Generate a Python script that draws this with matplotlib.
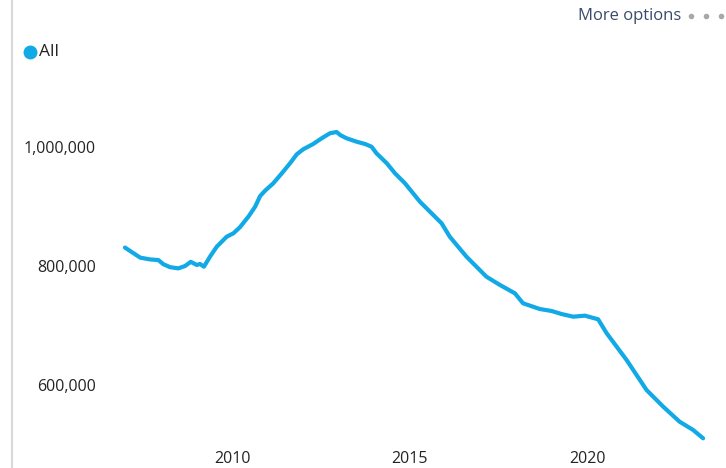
import matplotlib
matplotlib.use("Agg")
from matplotlib import pyplot as plt
from matplotlib.lines import Line2D
from matplotlib.ticker import FuncFormatter

# decimal year, value
years = [2006.99, 2007.42, 2007.70, 2007.93, 2008.07, 2008.26, 2008.49, 2008.68,
         2008.84, 2009.01, 2009.10, 2009.21, 2009.38, 2009.57, 2009.85, 2010.04,
         2010.22, 2010.46, 2010.65, 2010.79, 2010.93, 2011.16, 2011.40, 2011.63,
         2011.82, 2012.00, 2012.28, 2012.52, 2012.75, 2012.94, 2013.05, 2013.22,
         2013.50, 2013.74, 2013.92, 2014.06, 2014.35, 2014.58, 2014.86, 2015.28,
         2015.89, 2016.12, 2016.59, 2016.87, 2017.15, 2017.53, 2017.95, 2018.18,
         2018.65, 2018.98, 2019.26, 2019.59, 2019.92, 2020.29, 2020.53, 2021.09,
         2021.65, 2022.12, 2022.58, 2022.96, 2023.24]
values = [831000, 814000, 811000, 810000, 803000, 798000, 796000, 800000,
          807000, 801700, 803400, 798800, 815600, 832400, 849200, 855000,
          865000, 882900, 899700, 917600, 926600, 939000, 955800, 972600,
          987700, 996100, 1005000, 1014600, 1023000, 1025200, 1019700, 1014600,
          1008900, 1005000, 1000500, 989400, 972600, 955800, 939000, 908100,
          871800, 849200, 815600, 798800, 782000, 768100, 754100, 737300,
          727700, 724400, 719300, 714800, 716500, 710400, 686900, 642000,
          591600, 563500, 538300, 524400, 510400]

xticks = [2010, 2015, 2020]
yticks = [600000, 800000, 1000000]

blue = "#11A9E6"
txt = "#252423"

fig = plt.figure(figsize=(7.26, 4.68), dpi=100)
ax = fig.add_axes([0.1515, 0.0502, 0.840, 0.7756])

ax.plot(years, values, color=blue, linewidth=3.0, solid_capstyle="round",
        solid_joinstyle="round")

ax.set_xlim(2006.57, 2023.71)
ax.set_ylim(500000, 1110000)
ax.set_xticks(xticks)
ax.set_yticks(yticks)
ax.yaxis.set_major_formatter(FuncFormatter(lambda v, p: "{:,.0f}".format(v)))

for s in ax.spines.values():
    s.set_visible(False)
ax.tick_params(axis="both", length=0, labelsize=11.5, colors=txt)
ax.tick_params(axis="y", pad=10)
ax.tick_params(axis="x", pad=5)
for lab in ax.get_xticklabels() + ax.get_yticklabels():
    lab.set_fontfamily("Open Sans")

# container border on the left
fig.add_artist(Line2D([12 / 726, 12 / 726], [0, 1], color="#d9d9d9", linewidth=1.5))

# legend
fig.add_artist(Line2D([30 / 726], [1 - 52 / 468], marker="o", markersize=9,
                      color=blue, linestyle="none"))
fig.text(39 / 726, 1 - 52 / 468, "All", fontsize=12.5, color=txt,
         family="Open Sans", va="center", ha="left")

# header
fig.text(578 / 726, 1 - 16 / 468, "More options", fontsize=12, color="#3b4a6b",
         family="Open Sans", va="center", ha="left")
for dx in [691, 706, 721]:
    fig.add_artist(Line2D([dx / 726], [1 - 16 / 468], marker="o", markersize=3,
                          color="#a8a8a8", linestyle="none"))

plt.savefig("out.png", dpi=100)
